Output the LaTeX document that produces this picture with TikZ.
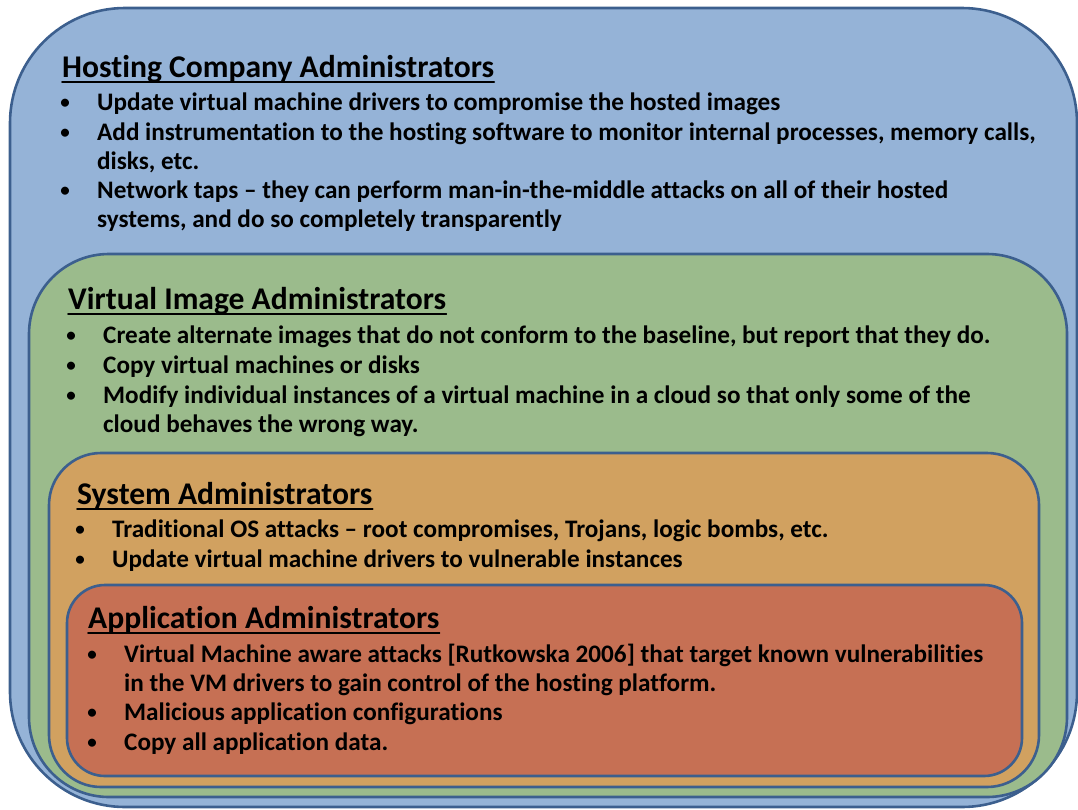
\documentclass[tikz,border=0pt]{standalone}
\usepackage{fontspec}
\setmainfont{Carlito}[Ligatures={NoCommon}]
\usepackage{tikz}
\definecolor{qqbbdd}{rgb}{0.584,0.702,0.843}
\definecolor{qqbbgg}{rgb}{0.608,0.733,0.549}
\definecolor{ddaaqq}{rgb}{0.820,0.631,0.376}
\definecolor{ccttqq}{rgb}{0.776,0.439,0.329}
\definecolor{zzqqtt}{rgb}{0.235,0.373,0.557}
\tikzset{
  box/.style={draw=zzqqtt,line width=2.6pt},
  head/.style={anchor=base west,inner sep=0pt,font=\fontsize{31.6}{36}\selectfont\bfseries},
  item/.style={anchor=base west,inner sep=0pt,font=\fontsize{25.2}{30}\selectfont\bfseries},
  dot/.style={anchor=base,inner sep=0pt,font=\fontsize{19}{24}\selectfont\bfseries}
}
\newcommand{\ulhead}[1]{\draw[line width=1.7pt] ([yshift=-5pt]#1.base west) -- ([yshift=-5pt]#1.base east);}

\begin{document}
\begin{tikzpicture}[line cap=round,line join=round,x=1pt,y=-1pt]
\useasboundingbox (0,0) rectangle (1078,809);
% boxes
\draw[box,fill=qqbbdd,rounded corners=115pt] (10,8) rectangle (1077,807);
\draw[box,fill=qqbbgg,rounded corners=80pt] (29,254) rectangle (1067,797);
\draw[box,fill=ddaaqq,rounded corners=52pt] (49,453) rectangle (1039,787);
\draw[box,fill=ccttqq,rounded corners=38pt] (67,585) rectangle (1022,776);
% hosting company
\node[head] (hc) at (62,77) {Hosting Company Administrators};
\ulhead{hc}
\node[dot] (hc1d) at (65,108) {•};
\node[item] (hc1) at (97,110) {Update virtual machine drivers to compromise the hosted images};
\node[dot] (hc2d) at (65,138) {•};
\node[item] (hc2) at (97,140) {Add instrumentation to the hosting software to monitor internal processes, memory calls,};
\node[item] (hc2b) at (97,169) {disks, etc.};
\node[dot] (hc3d) at (65,196) {•};
\node[item] (hc3) at (97,198) {Network taps -- they can perform man-in-the-middle attacks on all of their hosted};
\node[item] (hc3b) at (97,227) {systems, and do so completely transparently};
% virtual image
\node[head] (vi) at (68,309) {Virtual Image Administrators};
\ulhead{vi}
\node[dot] (vi1d) at (71,341) {•};
\node[item] (vi1) at (103,343) {Create alternate images that do not conform to the baseline, but report that they do.};
\node[dot] (vi2d) at (71,371) {•};
\node[item] (vi2) at (103,373) {Copy virtual machines or disks};
\node[dot] (vi3d) at (71,401) {•};
\node[item] (vi3) at (103,403) {Modify individual instances of a virtual machine in a cloud so that only some of the};
\node[item] (vi3b) at (103,432) {cloud behaves the wrong way.};
% system
\node[head] (sa) at (77,504) {System Administrators};
\ulhead{sa}
\node[dot] (sa1d) at (80,535) {•};
\node[item] (sa1) at (112,537) {Traditional OS attacks -- root compromises, Trojans, logic bombs, etc.};
\node[dot] (sa2d) at (80,565) {•};
\node[item] (sa2) at (112,567) {Update virtual machine drivers to vulnerable instances};
% application
\node[head] (aa) at (88,628) {Application Administrators};
\ulhead{aa}
\node[dot] (aa1d) at (92,660) {•};
\node[item] (aa1) at (124,662) {Virtual Machine aware attacks [Rutkowska 2006] that target known vulnerabilities};
\node[item] (aa1b) at (124,691) {in the VM drivers to gain control of the hosting platform.};
\node[dot] (aa2d) at (92,718) {•};
\node[item] (aa2) at (124,720) {Malicious application configurations};
\node[dot] (aa3d) at (92,748) {•};
\node[item] (aa3) at (124,750) {Copy all application data.};
\end{tikzpicture}
\end{document}
